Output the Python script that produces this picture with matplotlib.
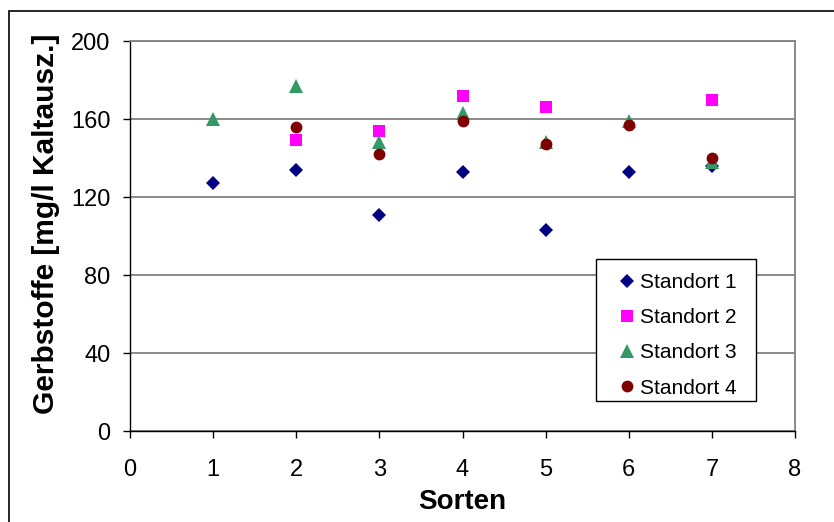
import matplotlib
matplotlib.use("Agg")
import matplotlib.pyplot as plt
from matplotlib.patches import Rectangle

plt.rcParams['font.family'] = ['Liberation Sans', 'DejaVu Sans']

# Tannin content per variety (Sorte) at four locations
sorten = [1, 2, 3, 4, 5, 6, 7]
standort_1 = [127, 134, 111, 133, 103, 133, 136]
standort_2 = [None, 149, 154, 172, 166, None, 170]
standort_3 = [160, 177, 148, 163, 148, 159, 138]
standort_4 = [None, 156, 142, 159, 147, 157, 140]

series_names = ["Standort 1", "Standort 2", "Standort 3", "Standort 4"]
x_ticks = [0, 1, 2, 3, 4, 5, 6, 7, 8]
y_ticks = [0, 40, 80, 120, 160, 200]

W, H = 834, 522
fig = plt.figure(figsize=(W / 100, H / 100), dpi=100)
ax = fig.add_axes([130 / W, 1 - 431 / H, (795 - 130) / W, (431 - 41) / H])

# outer chart frame (runs off the right and bottom edges)
fig.patches.append(Rectangle((9 / W, -0.2), 1.5, 1.2 - 11 / H,
                             transform=fig.transFigure, fill=False,
                             edgecolor='black', linewidth=1.2))


def pts(xs, ys):
    pairs = [(x, y) for x, y in zip(xs, ys) if y is not None]
    return [p[0] for p in pairs], [p[1] for p in pairs]


styles = [
    dict(marker='D', color='#000080', ms=7.2),
    dict(marker='s', color='#FF00FF', ms=8.3),
    dict(marker='^', color='#339966', ms=9.5),
    dict(marker='o', color='#800000', ms=8.5),
]
for vals, st, name in zip([standort_1, standort_2, standort_3, standort_4],
                          styles, series_names):
    xs, ys = pts(sorten, vals)
    ax.plot(xs, ys, linestyle='none', marker=st['marker'], color=st['color'],
            markersize=st['ms'], markeredgewidth=0, label=name, zorder=3)

ax.set_xlim(0, 8)
ax.set_ylim(0, 200)
ax.set_xticks(x_ticks)
ax.set_yticks(y_ticks)
ax.yaxis.grid(True, color='#808080', linewidth=1.3)
ax.set_axisbelow(True)

for side in ['top', 'right']:
    ax.spines[side].set_color('#808080')
    ax.spines[side].set_linewidth(1.3)
for side in ['left', 'bottom']:
    ax.spines[side].set_color('black')
    ax.spines[side].set_linewidth(1.0)

ax.tick_params(axis='both', direction='out', length=5, width=1.0,
               labelsize=17, colors='black')
ax.tick_params(axis='y', pad=9)
ax.tick_params(axis='x', pad=15)

ax.set_xlabel("Sorten", fontsize=20, fontweight='bold', labelpad=6)
ax.set_ylabel("Gerbstoffe [mg/l Kaltausz.]", fontsize=21.5, fontweight='bold')
ax.yaxis.set_label_coords(-0.105, 0.53)

# legend box, drawn above the grid and below the legend entries
box = Rectangle((596 / W, 1 - 401 / H), (756 - 596) / W, (401 - 259) / H,
                transform=fig.transFigure, facecolor='white',
                edgecolor='black', linewidth=1.0, zorder=4, clip_on=False)
ax.add_artist(box)

leg = ax.legend(loc='upper left',
                bbox_to_anchor=((608 - 130) / 665, (431 - 263) / 390),
                fontsize=15, frameon=False,
                borderpad=0.5, labelspacing=0.77, handletextpad=0.23,
                handlelength=0.8, borderaxespad=0)
leg.set_zorder(5)

fig.savefig("out.png", dpi=100)
